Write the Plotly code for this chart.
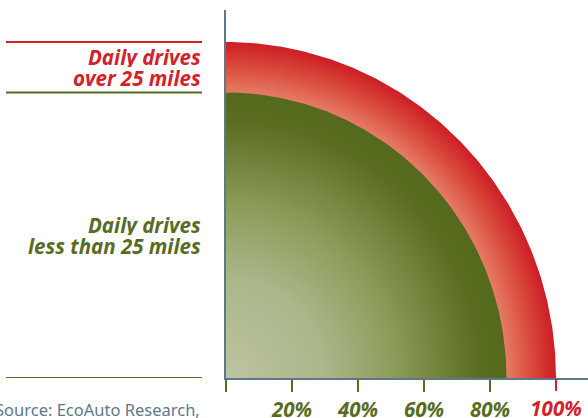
import numpy as np
import plotly.graph_objects as go

# ---- data ----
categories = ["Daily drives<br>less than 25 miles", "Daily drives<br>over 25 miles"]
radii = [85, 100]  # percent of daily drives (cumulative)
tick_vals = [0, 20, 40, 60, 80]
tick_text = ["", "20%", "40%", "60%", "80%"]
top_tick_vals = [100]
top_tick_text = ["100%"]
source_text = "Source: EcoAuto Research,"

GREEN = "#586c1f"
RED = "#d2222a"
AXIS = "#5e7888"
FONT = "Open Sans"
FS = 20.5

W, H = 588, 418
ML, MR, MT, MB = 226, 0, 10, 40
PW = W - ML - MR
PH = H - MT - MB
XMAX = PW / 3.3
YMAX = PH / 3.36

theta = np.linspace(0, 2 * np.pi, 721)

fig = go.Figure()

# outer (red) disk, radial gradient centred on the origin
r_out = radii[1]
fig.add_trace(go.Scatter(
    x=r_out * np.cos(theta), y=r_out * np.sin(theta),
    mode="lines", line=dict(width=0), fill="toself",
    fillgradient=dict(type="radial",
                      colorscale=[[0, "#e8846c"], [radii[0] / radii[1], "#e57b65"],
                                  [0.93, "#d9483a"], [1, "#cd1d25"]]),
    hoverinfo="skip", showlegend=False))

# inner (green) disk
r_in = radii[0]
fig.add_trace(go.Scatter(
    x=r_in * np.cos(theta), y=r_in * np.sin(theta),
    mode="lines", line=dict(width=0), fill="toself",
    fillgradient=dict(type="radial",
                      colorscale=[[0, "#bcc4a0"], [0.35, "#abb68a"], [0.6, "#8d9c5a"],
                                  [0.9, "#5a6d21"], [1, "#55691d"]]),
    hoverinfo="skip", showlegend=False))

# invisible trace for the secondary x axis (red 100% tick)
fig.add_trace(go.Scatter(x=[100], y=[0], xaxis="x2", mode="markers",
                         marker=dict(opacity=0), hoverinfo="skip", showlegend=False))

tickfont_g = dict(family=FONT, size=FS, color=GREEN, weight="bold", style="italic")
tickfont_r = dict(family=FONT, size=FS, color=RED, weight="bold", style="italic")

fig.update_layout(
    width=W, height=H,
    margin=dict(l=ML, r=MR, t=MT, b=MB, autoexpand=False),
    paper_bgcolor="white", plot_bgcolor="white",
    xaxis=dict(range=[0, XMAX], showgrid=False, zeroline=False, automargin=False,
               showline=True, linecolor=AXIS, linewidth=2,
               ticks="outside", ticklen=12, tickwidth=2, tickcolor=GREEN,
               tickvals=tick_vals, ticktext=tick_text, tickfont=tickfont_g),
    xaxis2=dict(range=[0, XMAX], overlaying="x", anchor="y", side="bottom",
                showgrid=False, zeroline=False, showline=False, automargin=False,
                ticks="outside", ticklen=12, tickwidth=2, tickcolor=RED,
                tickvals=top_tick_vals, ticktext=top_tick_text, tickfont=tickfont_r),
    yaxis=dict(range=[0, YMAX], showgrid=False, zeroline=False, automargin=False,
               showline=True, linecolor=AXIS, linewidth=2,
               showticklabels=False, ticks=""),
)

# left guide lines (at the outer, inner radius and baseline)
xl0 = (6 - ML) / PW
xl1 = (202 - ML) / PW
for yv, col in [(radii[1], RED), (radii[0], GREEN), (0, GREEN)]:
    fig.add_shape(type="line", xref="paper", yref="y", x0=xl0, x1=xl1, y0=yv, y1=yv,
                  line=dict(color=col, width=2))

# category labels, one annotation per line for tight leading
LINE = 21
def add_label(text, ycenter, color):
    lines = text.split("<br>")
    for i, ln in enumerate(lines):
        shift = (len(lines) - 1) / 2 * LINE - i * LINE
        fig.add_annotation(text=ln, xref="paper", yref="y", x=xl1, y=ycenter,
                           yshift=shift, xanchor="right", yanchor="middle",
                           align="right", valign="middle", height=LINE, borderpad=0,
                           showarrow=False,
                           font=dict(family=FONT, size=FS, color=color,
                                     weight="bold", style="italic"))

add_label(categories[1], (radii[0] + radii[1]) / 2, RED)
add_label(categories[0], radii[0] / 2, GREEN)

fig.add_annotation(text=source_text, xref="paper", yref="paper", x=xl1, y=-31 / PH,
                   xanchor="right", yanchor="middle", showarrow=False,
                   font=dict(family="Noto Sans", size=16.5, color=AXIS))

fig.write_html("out.html", post_script="document.body.style.margin='0';",
               config={"displayModeBar": False})
